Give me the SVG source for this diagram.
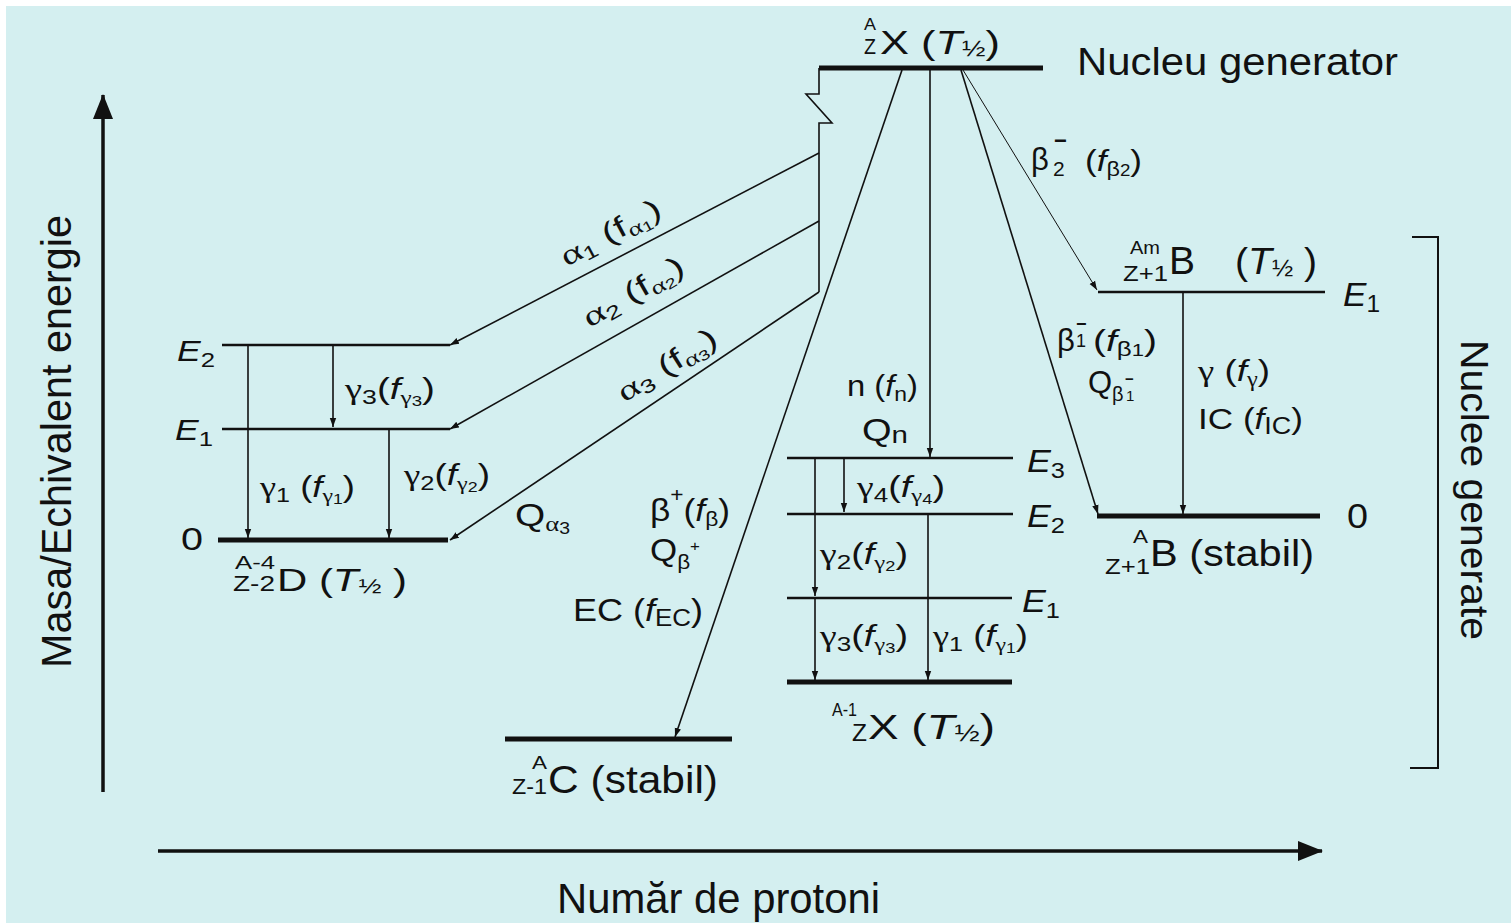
<svg xmlns="http://www.w3.org/2000/svg" width="1511" height="923" viewBox="0 0 1511 923">
<defs>
<style>
.t{font-family:"Liberation Sans",Arial,sans-serif;fill:#111}
.i{font-style:italic}
.g{font-family:"Liberation Serif","Times New Roman",serif}
.b{font-weight:bold}
.lv{stroke:#111;stroke-width:2.5}
.gd{stroke:#111;stroke-width:5}
.cn{stroke:#111;stroke-width:1.6;fill:none}
.th{stroke:#111;stroke-width:1;fill:none}
.ax{stroke:#111;stroke-width:3.5;fill:none}
</style>
<marker id="ah" markerWidth="10" markerHeight="8" refX="9" refY="4" orient="auto" markerUnits="userSpaceOnUse"><path d="M0,0.8 L9,4 L0,7.2 Z" fill="#111"/></marker>
<marker id="ax" markerWidth="26" markerHeight="22" refX="24" refY="11" orient="auto" markerUnits="userSpaceOnUse"><path d="M0,1 L25,11 L0,21 Z" fill="#111"/></marker>
</defs>
<rect width="1511" height="923" fill="#fff"/>
<rect x="6" y="6" width="1505" height="917" fill="#d4eff0"/>

<g id="axes">
<line class="ax" x1="103" y1="792" x2="103" y2="95" marker-end="url(#ax)"/>
<line class="ax" x1="158" y1="851" x2="1322" y2="851" marker-end="url(#ax)"/>
<text class="t" transform="translate(71,668) rotate(-90)" font-size="42" textLength="453" lengthAdjust="spacingAndGlyphs">Masa/Echivalent energie</text>
<text class="t" x="557" y="913" font-size="42" textLength="323" lengthAdjust="spacingAndGlyphs">Număr de protoni</text>
</g>

<g id="generated-bracket">
<path class="cn" style="stroke-width:2" d="M1412,237 H1438 V768 H1410"/>
<text class="t" transform="translate(1461,340) rotate(90)" font-size="39" textLength="300" lengthAdjust="spacingAndGlyphs">Nuclee generate</text>
</g>

<g id="connectors">
<path class="cn" d="M819,68 V94 H806 L832,123 H819 V292"/>
<line class="cn" x1="819" y1="153" x2="450" y2="345" marker-end="url(#ah)"/>
<line class="cn" x1="819" y1="221" x2="450" y2="429" marker-end="url(#ah)"/>
<line class="cn" x1="819" y1="292" x2="450" y2="540" marker-end="url(#ah)"/>
<line class="cn" x1="902" y1="70" x2="675" y2="737" marker-end="url(#ah)"/>
<line class="cn" x1="930" y1="70" x2="930" y2="457" marker-end="url(#ah)"/>
<line class="cn" x1="961" y1="70" x2="1098" y2="514" marker-end="url(#ah)"/>
<line class="th" x1="963" y1="70" x2="1097" y2="290" marker-end="url(#ah)"/>
<line class="cn" x1="248" y1="345" x2="248" y2="538" marker-end="url(#ah)"/>
<line class="cn" x1="333" y1="345" x2="333" y2="427" marker-end="url(#ah)"/>
<line class="cn" x1="389" y1="429" x2="389" y2="538" marker-end="url(#ah)"/>
<line class="cn" x1="815" y1="458" x2="815" y2="596" marker-end="url(#ah)"/>
<line class="cn" x1="815" y1="598" x2="815" y2="680" marker-end="url(#ah)"/>
<line class="cn" x1="844" y1="458" x2="844" y2="512" marker-end="url(#ah)"/>
<line class="cn" x1="928" y1="514" x2="928" y2="680" marker-end="url(#ah)"/>
<line class="cn" x1="1183" y1="292" x2="1183" y2="514" marker-end="url(#ah)"/>
<text class="t" transform="translate(615,241) rotate(-28)" text-anchor="middle" font-size="29" textLength="110" lengthAdjust="spacingAndGlyphs"><tspan class="g">α</tspan><tspan dy="5" font-size="19">1</tspan><tspan dy="-5"> (f</tspan><tspan class="g" dy="5" font-size="20">α</tspan><tspan dy="2" font-size="14">1</tspan><tspan dy="-7">)</tspan></text>
<text class="t" transform="translate(638,300) rotate(-30)" text-anchor="middle" font-size="29" textLength="112" lengthAdjust="spacingAndGlyphs"><tspan class="g">α</tspan><tspan dy="5" font-size="19">2</tspan><tspan dy="-5"> (f</tspan><tspan class="g" dy="5" font-size="20">α</tspan><tspan dy="2" font-size="14">2</tspan><tspan dy="-7">)</tspan></text>
<text class="t" transform="translate(672,373) rotate(-32)" text-anchor="middle" font-size="29" textLength="112" lengthAdjust="spacingAndGlyphs"><tspan class="g">α</tspan><tspan dy="5" font-size="19">3</tspan><tspan dy="-5"> (f</tspan><tspan class="g" dy="5" font-size="20">α</tspan><tspan dy="2" font-size="14">3</tspan><tspan dy="-7">)</tspan></text>
<text class="t" x="515" y="526" font-size="32" textLength="55" lengthAdjust="spacingAndGlyphs">Q<tspan class="g" dy="5" font-size="22">α</tspan><tspan dy="3" font-size="16">3</tspan></text>
<text class="t" x="650" y="521" font-size="31" textLength="80" lengthAdjust="spacingAndGlyphs">β<tspan dy="-19" font-size="20">+</tspan><tspan dy="19">(</tspan><tspan class="i">f</tspan><tspan dy="5" font-size="20">β</tspan><tspan dy="-5">)</tspan></text>
<text class="t" x="650" y="561" font-size="31" textLength="50" lengthAdjust="spacingAndGlyphs">Q<tspan dy="8" font-size="20">β</tspan><tspan dy="-18" font-size="15">+</tspan></text>
<text class="t" x="573" y="621" font-size="32" textLength="130" lengthAdjust="spacingAndGlyphs">EC (<tspan class="i">f</tspan><tspan dy="5" font-size="23">EC</tspan><tspan dy="-5">)</tspan></text>
<text class="t" x="847" y="396" font-size="30" textLength="71" lengthAdjust="spacingAndGlyphs">n (<tspan class="i">f</tspan><tspan dy="5" font-size="21">n</tspan><tspan dy="-5">)</tspan></text>
<text class="t" x="862" y="441" font-size="31" textLength="46" lengthAdjust="spacingAndGlyphs">Q<tspan dy="2" font-size="24">n</tspan></text>
<text class="t" x="1031" y="170" font-size="31">β<tspan class="b" x="1054" y="148" font-size="22">−</tspan><tspan x="1053" y="176" font-size="21">2</tspan></text>
<text class="t" x="1085" y="171" font-size="30" textLength="57" lengthAdjust="spacingAndGlyphs">(<tspan class="i">f</tspan><tspan dy="5" font-size="20">β</tspan><tspan font-size="16">2</tspan><tspan dy="-5">)</tspan></text>
<text class="t" x="1057" y="351" font-size="31">β<tspan class="b" x="1076" y="330" font-size="18">−</tspan><tspan x="1076" y="347" font-size="18">1</tspan></text>
<text class="t" x="1093" y="351" font-size="30" textLength="64" lengthAdjust="spacingAndGlyphs">(<tspan class="i">f</tspan><tspan dy="5" font-size="20">β</tspan><tspan font-size="17">1</tspan><tspan dy="-5">)</tspan></text>
<text class="t" x="1088" y="393" font-size="31">Q<tspan x="1112" y="401" font-size="20">β</tspan><tspan class="b" x="1125" y="384" font-size="15">−</tspan><tspan x="1126" y="401" font-size="15">1</tspan></text>
<text class="t" x="1198" y="381" font-size="30" textLength="72" lengthAdjust="spacingAndGlyphs"><tspan class="g">γ</tspan> (<tspan class="i">f</tspan><tspan class="g" dy="5" font-size="20">γ</tspan><tspan dy="-5">)</tspan></text>
<text class="t" x="1198" y="429" font-size="30" textLength="105" lengthAdjust="spacingAndGlyphs">IC (<tspan class="i">f</tspan><tspan dy="5" font-size="23">IC</tspan><tspan dy="-5">)</tspan></text>
</g>

<g id="parent-X">
<line class="gd" x1="819" y1="68" x2="1043" y2="68"/>
<text class="t" x="864" y="30" font-size="17" textLength="12" lengthAdjust="spacingAndGlyphs">A</text>
<text class="t" x="864" y="54" font-size="22" textLength="12" lengthAdjust="spacingAndGlyphs">Z</text>
<text class="t" x="880" y="54" font-size="34" textLength="120" lengthAdjust="spacingAndGlyphs">X (<tspan class="i">T</tspan><tspan font-size="22" dy="2">½</tspan><tspan dy="-2">)</tspan></text>
<text class="t" x="1077" y="75" font-size="38" textLength="321" lengthAdjust="spacingAndGlyphs">Nucleu generator</text>
</g>

<g id="daughter-D">
<line class="lv" x1="222" y1="345" x2="450" y2="345"/>
<line class="lv" x1="222" y1="429" x2="450" y2="429"/>
<line class="gd" x1="218" y1="540" x2="448" y2="540"/>
<text class="t" x="177" y="361" font-size="29" textLength="38" lengthAdjust="spacingAndGlyphs"><tspan class="i">E</tspan><tspan dy="6" font-size="21">2</tspan></text>
<text class="t" x="175" y="440" font-size="29" textLength="38" lengthAdjust="spacingAndGlyphs"><tspan class="i">E</tspan><tspan dy="6" font-size="21">1</tspan></text>
<text class="t" x="181" y="550" font-size="31" textLength="22" lengthAdjust="spacingAndGlyphs">0</text>
<text class="t" x="345" y="399" font-size="29" textLength="90" lengthAdjust="spacingAndGlyphs"><tspan class="g">γ</tspan><tspan dy="5" font-size="20">3</tspan><tspan dy="-5">(</tspan><tspan class="i">f</tspan><tspan class="g" dy="5" font-size="19">γ</tspan><tspan dy="2" font-size="14">3</tspan><tspan dy="-7">)</tspan></text>
<text class="t" x="260" y="497" font-size="29" textLength="95" lengthAdjust="spacingAndGlyphs"><tspan class="g">γ</tspan><tspan dy="5" font-size="20">1</tspan><tspan dy="-5"> (</tspan><tspan class="i">f</tspan><tspan class="g" dy="5" font-size="19">γ</tspan><tspan dy="2" font-size="14">1</tspan><tspan dy="-7">)</tspan></text>
<text class="t" x="404" y="485" font-size="29" textLength="86" lengthAdjust="spacingAndGlyphs"><tspan class="g">γ</tspan><tspan dy="5" font-size="20">2</tspan><tspan dy="-5">(</tspan><tspan class="i">f</tspan><tspan class="g" dy="5" font-size="19">γ</tspan><tspan dy="2" font-size="14">2</tspan><tspan dy="-7">)</tspan></text>
<text class="t" x="235" y="569" font-size="19" textLength="40" lengthAdjust="spacingAndGlyphs">A-4</text>
<text class="t" x="233" y="591" font-size="22" textLength="42" lengthAdjust="spacingAndGlyphs">Z-2</text>
<text class="t" x="277" y="591" font-size="32" textLength="130" lengthAdjust="spacingAndGlyphs">D  (<tspan class="i">T</tspan><tspan font-size="21" dy="2">½</tspan><tspan dy="-2"> )</tspan></text>
</g>

<g id="daughter-C">
<line class="gd" x1="505" y1="739" x2="732" y2="739"/>
<text class="t" x="532" y="769" font-size="19" textLength="15" lengthAdjust="spacingAndGlyphs">A</text>
<text class="t" x="512" y="794" font-size="22" textLength="35" lengthAdjust="spacingAndGlyphs">Z-1</text>
<text class="t" x="548" y="793" font-size="38" textLength="170" lengthAdjust="spacingAndGlyphs">C (stabil)</text>
</g>

<g id="daughter-X">
<line class="lv" x1="787" y1="458" x2="1013" y2="458"/>
<line class="lv" x1="787" y1="514" x2="1013" y2="514"/>
<line class="lv" x1="787" y1="598" x2="1012" y2="598"/>
<line class="gd" x1="787" y1="682" x2="1012" y2="682"/>
<text class="t" x="1027" y="472" font-size="31" textLength="38" lengthAdjust="spacingAndGlyphs"><tspan class="i">E</tspan><tspan dy="6" font-size="22">3</tspan></text>
<text class="t" x="1027" y="527" font-size="31" textLength="38" lengthAdjust="spacingAndGlyphs"><tspan class="i">E</tspan><tspan dy="6" font-size="22">2</tspan></text>
<text class="t" x="1022" y="612" font-size="31" textLength="38" lengthAdjust="spacingAndGlyphs"><tspan class="i">E</tspan><tspan dy="6" font-size="22">1</tspan></text>
<text class="t" x="857" y="497" font-size="29" textLength="88" lengthAdjust="spacingAndGlyphs"><tspan class="g">γ</tspan><tspan dy="5" font-size="20">4</tspan><tspan dy="-5">(</tspan><tspan class="i">f</tspan><tspan class="g" dy="5" font-size="19">γ</tspan><tspan dy="2" font-size="14">4</tspan><tspan dy="-7">)</tspan></text>
<text class="t" x="820" y="564" font-size="29" textLength="88" lengthAdjust="spacingAndGlyphs"><tspan class="g">γ</tspan><tspan dy="5" font-size="20">2</tspan><tspan dy="-5">(</tspan><tspan class="i">f</tspan><tspan class="g" dy="5" font-size="19">γ</tspan><tspan dy="2" font-size="14">2</tspan><tspan dy="-7">)</tspan></text>
<text class="t" x="820" y="646" font-size="29" textLength="88" lengthAdjust="spacingAndGlyphs"><tspan class="g">γ</tspan><tspan dy="5" font-size="20">3</tspan><tspan dy="-5">(</tspan><tspan class="i">f</tspan><tspan class="g" dy="5" font-size="19">γ</tspan><tspan dy="2" font-size="14">3</tspan><tspan dy="-7">)</tspan></text>
<text class="t" x="933" y="646" font-size="29" textLength="95" lengthAdjust="spacingAndGlyphs"><tspan class="g">γ</tspan><tspan dy="5" font-size="20">1</tspan><tspan dy="-5"> (</tspan><tspan class="i">f</tspan><tspan class="g" dy="5" font-size="19">γ</tspan><tspan dy="2" font-size="14">1</tspan><tspan dy="-7">)</tspan></text>
<text class="t" x="832" y="716" font-size="19" textLength="25" lengthAdjust="spacingAndGlyphs">A-1</text>
<text class="t" x="852" y="741" font-size="23" textLength="15" lengthAdjust="spacingAndGlyphs">Z</text>
<text class="t" x="868" y="739" font-size="35" textLength="127" lengthAdjust="spacingAndGlyphs">X (<tspan class="i">T</tspan><tspan font-size="23" dy="2">½</tspan><tspan dy="-2">)</tspan></text>
</g>

<g id="daughter-B">
<line class="lv" x1="1098" y1="292" x2="1325" y2="292"/>
<line class="gd" x1="1097" y1="516" x2="1320" y2="516"/>
<text class="t" x="1130" y="254" font-size="19" textLength="30" lengthAdjust="spacingAndGlyphs">Am</text>
<text class="t" x="1123" y="281" font-size="22" textLength="45" lengthAdjust="spacingAndGlyphs">Z+1</text>
<text class="t" x="1169" y="274" font-size="38" textLength="26" lengthAdjust="spacingAndGlyphs">B</text>
<text class="t" x="1235" y="274" font-size="37" textLength="82" lengthAdjust="spacingAndGlyphs">(<tspan class="i">T</tspan><tspan font-size="24" dy="2">½</tspan><tspan dy="-2"> )</tspan></text>
<text class="t" x="1343" y="306" font-size="33" textLength="37" lengthAdjust="spacingAndGlyphs"><tspan class="i">E</tspan><tspan dy="6" font-size="23">1</tspan></text>
<text class="t" x="1347" y="528" font-size="35" textLength="21" lengthAdjust="spacingAndGlyphs">0</text>
<text class="t" x="1133" y="543" font-size="19" textLength="15" lengthAdjust="spacingAndGlyphs">A</text>
<text class="t" x="1105" y="574" font-size="22" textLength="45" lengthAdjust="spacingAndGlyphs">Z+1</text>
<text class="t" x="1150" y="566" font-size="37" textLength="164" lengthAdjust="spacingAndGlyphs">B (stabil)</text>
</g>
</svg>
